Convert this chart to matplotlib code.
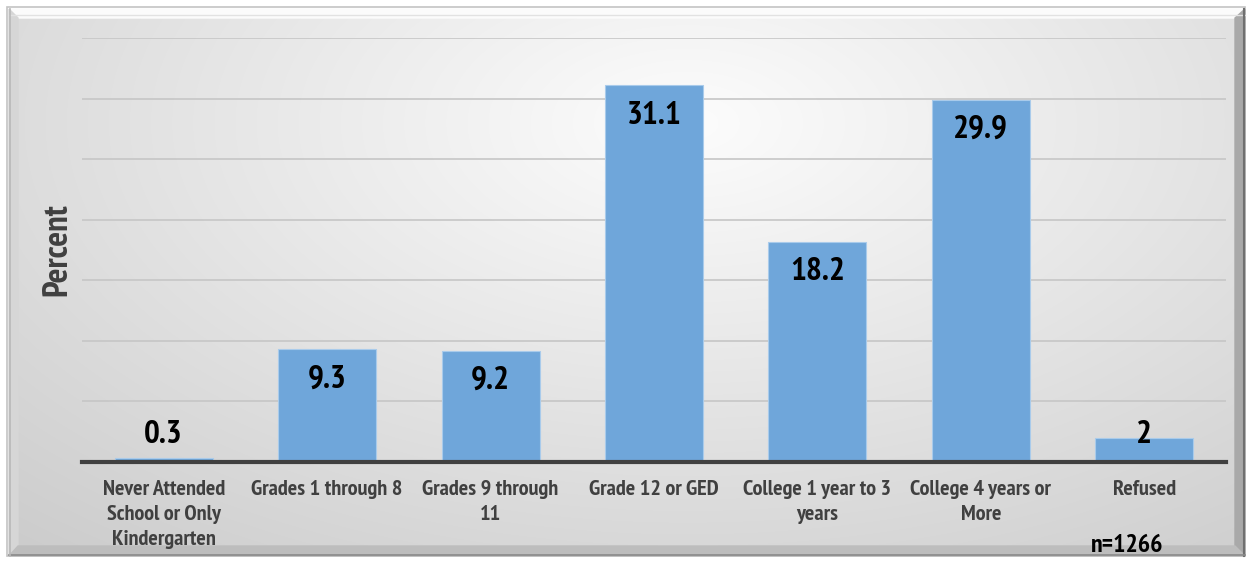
import matplotlib
matplotlib.use("Agg")
from matplotlib import pyplot as plt
from matplotlib.patches import Polygon, Rectangle
import numpy as np

# Data
CATEGORIES = [
    "Never Attended\nSchool or Only\nKindergarten",
    "Grades 1 through 8",
    "Grades 9 through\n11",
    "Grade 12 or GED",
    "College 1 year to 3\nyears",
    "College 4 years or\nMore",
    "Refused",
]
PERCENTS = [0.3, 9.3, 9.2, 31.1, 18.2, 29.9, 2]
VALUE_LABELS = ["0.3", "9.3", "9.2", "31.1", "18.2", "29.9", "2"]
Y_TICKS = [0, 5, 10, 15, 20, 25, 30, 35]
NOTE = "n=1266"

# narrow bold font, close to Arial Narrow
FONT = ["PT Sans Narrow", "Roboto Condensed", "Liberation Sans", "DejaVu Sans"]
plt.rcParams["font.family"] = FONT

W, H = 1252, 563
fig = plt.figure(figsize=(W / 100, H / 100), dpi=100)

# Background frame with a bevel and a soft radial gradient
bg = fig.add_axes([0, 0, 1, 1])
bg.set_xlim(0, W)
bg.set_ylim(H, 0)
bg.axis("off")

yy, xx = np.mgrid[0:H, 0:W]
r = np.sqrt(((xx - W * 0.55) / (W * 0.75)) ** 2 + ((yy - H * 0.2) / (H * 0.95)) ** 2)
shade = np.clip(0.99 - 0.17 * r, 0.80, 0.99)
img = np.dstack([shade, shade, shade])
bg.imshow(img, extent=[17, W - 16, H - 17, 17], zorder=0, aspect="auto")

# outer border line
bg.add_patch(Rectangle((7, 7), W - 14, H - 14, fill=False, edgecolor="#c4c4c4", lw=1.2, zorder=1))
o_l, o_t, o_r, o_b = 9, 9, W - 7, H - 7
i_l, i_t, i_r, i_b = 18, 18, W - 17, H - 17
# bevel sides
bg.add_patch(Polygon([(o_l, o_t), (o_r, o_t), (i_r, i_t), (i_l, i_t)], closed=True, color="#fbfbfb", zorder=1))
bg.add_patch(Polygon([(o_l, o_t), (i_l, i_t), (i_l, i_b), (o_l, o_b)], closed=True, color="#d6d6d6", zorder=1))
bg.add_patch(Polygon([(o_r, o_t), (o_r, o_b), (i_r, i_b), (i_r, i_t)], closed=True, color="#a9a9a9", zorder=1))
bg.add_patch(Polygon([(o_l, o_b), (i_l, i_b), (i_r, i_b), (o_r, o_b)], closed=True, color="#bdbdbd", zorder=1))
bg.plot([o_l, o_r], [o_t + 6, o_t + 6], color="#e2e2e2", lw=1, zorder=2)
bg.plot([o_r - 1, o_r - 1], [o_t, o_b], color="#707070", lw=1.5, zorder=2)
bg.plot([o_l, o_r], [o_b - 1, o_b - 1], color="#8a8a8a", lw=1.2, zorder=2)
bg.plot([o_l + 1, o_l + 1], [o_t, o_b], color="#b8b8b8", lw=1.2, zorder=2)

# Main chart
ax = fig.add_axes([82 / W, 1 - 462 / H, (1226 - 82) / W, (462 - 38) / H])
ax.patch.set_alpha(0)
x = np.arange(len(CATEGORIES))
ax.bar(x, PERCENTS, width=0.6, color="#6fa6da", edgecolor="#a9cbeb", linewidth=0.8, zorder=3)

ax.set_ylim(0, 35)
ax.set_xlim(-0.5, len(CATEGORIES) - 0.5)
ax.set_yticks(Y_TICKS)
ax.yaxis.grid(True, color="#c6c6c6", linewidth=1.2)
ax.set_axisbelow(True)
ax.tick_params(axis="y", length=0, labelleft=False)
ax.tick_params(axis="x", length=0, pad=13)
for s in ["top", "right", "left"]:
    ax.spines[s].set_visible(False)
ax.spines["bottom"].set_color("#404040")
ax.spines["bottom"].set_linewidth(3)
ax.spines["bottom"].set_zorder(4)

ax.set_xticks(x)
ax.set_xticklabels(CATEGORIES, fontsize=16, fontweight="bold", color="#404040", linespacing=1.4, va="top")

ax.set_ylabel("Percent", fontsize=25, fontweight="bold", color="#404040", labelpad=6)

for xi, v, lab in zip(x, PERCENTS, VALUE_LABELS):
    ax.text(xi, max(v - 2.5, 2.2), lab, ha="center", va="center", fontsize=24, fontweight="bold", color="black", zorder=5)

fig.text(1127 / W, 1 - 546 / H, NOTE, ha="center", va="center", fontsize=18.5, fontweight="bold", color="black")

fig.savefig("out.png", dpi=100)
